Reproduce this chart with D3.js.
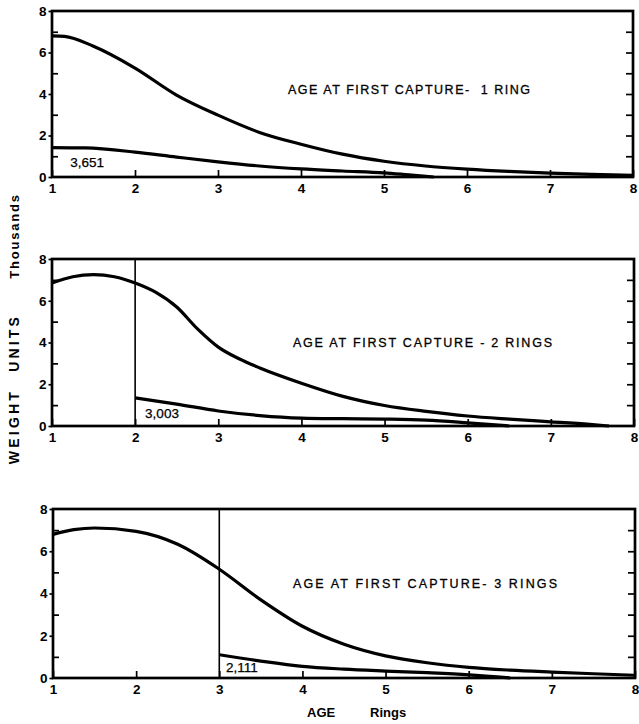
<!DOCTYPE html>
<html><head><meta charset="utf-8">
<script src="https://cdn.jsdelivr.net/npm/d3@7"></script>
<style>
html,body{margin:0;padding:0;background:#fff;}
svg{display:block;font-family:"Liberation Sans",Arial,sans-serif;}
</style></head>
<body>
<script>
// ---- data ----
const xTickLabels = [1,2,3,4,5,6,7,8];
const yTickLabels = [0,2,4,6,8];
const yMinorTicks = [1,3,5,7];
const rightTicks = [1,2,3,4,5,6,7];

const p1TotalX = [1,1.15,1.5,2,2.5,3,3.5,4,4.5,5,5.5,6,6.5,7,7.5,8];
const p1TotalY = [6.8,6.78,6.3,5.25,3.95,2.98,2.15,1.58,1.1,0.76,0.53,0.38,0.27,0.19,0.13,0.08];
const p1CatchX = [1,1.4,2,2.5,3,3.5,4,4.5,5,5.3,5.6];
const p1CatchY = [1.42,1.4,1.2,0.96,0.73,0.53,0.39,0.29,0.2,0.1,0];

const p2TotalX = [1,1.25,1.5,1.75,2,2.25,2.5,2.75,3,3.25,3.5,4,4.5,5,5.5,6,6.5,7,7.5,7.7];
const p2TotalY = [6.85,7.15,7.25,7.15,6.85,6.4,5.7,4.65,3.78,3.22,2.78,2.05,1.42,0.98,0.7,0.48,0.33,0.2,0.07,0];
const p2CatchX = [2,2.5,3,3.5,4,4.5,5,5.5,6,6.5];
const p2CatchY = [1.35,1.05,0.72,0.5,0.38,0.35,0.33,0.28,0.15,0];

const p3TotalX = [1,1.25,1.5,2,2.5,3,3.5,4,4.5,5,5.5,6,6.5,7,7.5,8];
const p3TotalY = [6.8,7.02,7.1,6.94,6.33,5.15,3.7,2.45,1.6,1.05,0.72,0.5,0.37,0.28,0.2,0.13];
const p3CatchX = [3,3.5,4,4.5,5,5.5,6,6.5];
const p3CatchY = [1.1,0.8,0.55,0.42,0.33,0.25,0.15,0];

const panelTitles = ["AGE AT FIRST CAPTURE-  1 RING","AGE AT FIRST CAPTURE - 2 RINGS","AGE AT FIRST CAPTURE- 3 RINGS"];
const catchLabels = ["3,651","3,003","2,111"];
const firstCaptureAge = [1,2,3];

// ---- layout ----
const W = 639, H = 724;
const svg = d3.select("body").append("svg").attr("width",W).attr("height",H);

const panels = [
  {top:11, bottom:177, left:52, right:633, total:[p1TotalX,p1TotalY], c:[p1CatchX,p1CatchY], titlePos:[288,94,242], labPos:[1.22,0.72]},
  {top:259, bottom:426, left:52, right:634, total:[p2TotalX,p2TotalY], c:[p2CatchX,p2CatchY], titlePos:[293,347,259], labPos:[2.12,0.6]},
  {top:509, bottom:678, left:53, right:635, total:[p3TotalX,p3TotalY], c:[p3CatchX,p3CatchY], titlePos:[293,588,264], labPos:[3.08,0.5]}
];

panels.forEach((p,i)=>{
  const w = p.right-p.left, h = p.bottom-p.top;
  const x = d3.scaleLinear().domain([1,8]).range([0,w]);
  const y = d3.scaleLinear().domain([0,8]).range([h,0]);
  const g = svg.append("g").attr("transform",`translate(${p.left},${p.top})`);

  const bx = g.append("g").attr("transform",`translate(0,${h})`)
    .call(d3.axisBottom(x).tickValues(xTickLabels).tickFormat(d3.format("d")).tickSizeInner(-7).tickSizeOuter(0).tickPadding(6.5));
  const ly = g.append("g")
    .call(d3.axisLeft(y).tickValues(yTickLabels).tickFormat(d3.format("d")).tickSizeInner(3.5).tickSizeOuter(0).tickPadding(2));
  const lm = g.append("g")
    .call(d3.axisLeft(y).tickValues(yMinorTicks).tickFormat("").tickSizeInner(-6).tickSizeOuter(0));
  const ra = g.append("g").attr("transform",`translate(${w},0)`)
    .call(d3.axisRight(y).tickValues(rightTicks).tickFormat("").tickSizeInner(-7).tickSizeOuter(0));

  [bx,ly,lm,ra].forEach(a=>{
    a.select(".domain").remove();
    a.selectAll(".tick line").attr("stroke","#000").attr("stroke-width",1.7);
    a.selectAll(".tick text").attr("fill","#000").attr("font-size",13.5).attr("font-weight","bold")
      .attr("font-family","'Liberation Sans',Arial,sans-serif");
  });

  g.append("rect").attr("x",0).attr("y",0).attr("width",w).attr("height",h)
    .attr("fill","none").attr("stroke","#000").attr("stroke-width",2.7);

  if (firstCaptureAge[i] > 1) {
    g.append("line").attr("x1",x(firstCaptureAge[i])).attr("x2",x(firstCaptureAge[i]))
      .attr("y1",0).attr("y2",h).attr("stroke","#000").attr("stroke-width",1.6);
  }

  const line = d3.line().x(d=>x(d[0])).y(d=>y(d[1])).curve(d3.curveMonotoneX);
  const tot = p.total[0].map((v,k)=>[v,p.total[1][k]]);
  const cat = p.c[0].map((v,k)=>[v,p.c[1][k]]);
  g.append("path").attr("d",line(tot)).attr("fill","none").attr("stroke","#000").attr("stroke-width",3.2);
  g.append("path").attr("d",line(cat)).attr("fill","none").attr("stroke","#000").attr("stroke-width",3.2);

  svg.append("text").attr("x",p.titlePos[0]).attr("y",p.titlePos[1])
    .attr("textLength",p.titlePos[2]).attr("lengthAdjust","spacing")
    .attr("font-size",12.5).attr("fill","#000").attr("stroke","#000").attr("stroke-width",0.3)
    .style("white-space","pre")
    .text(panelTitles[i]);

  g.append("text").attr("x",x(p.labPos[0])).attr("y",y(p.labPos[1])+4.5)
    .attr("font-size",13.5).attr("fill","#000").attr("stroke","#000").attr("stroke-width",0.25)
    .text(catchLabels[i]);
});

svg.append("text").attr("transform","translate(19,236) rotate(-90)")
  .attr("text-anchor","middle").attr("font-size",13).attr("font-weight","bold")
  .attr("letter-spacing",1.8).text("Thousands");
svg.append("text").attr("transform","translate(19,389) rotate(-90)")
  .attr("text-anchor","middle").attr("font-size",14).attr("font-weight","bold")
  .attr("letter-spacing",3.2).attr("word-spacing",10).style("white-space","pre")
  .text("WEIGHT UNITS");

svg.append("text").attr("x",307).attr("y",717).attr("font-size",13).attr("font-weight","bold").text("AGE");
svg.append("text").attr("x",370).attr("y",717).attr("font-size",13).attr("font-weight","bold").text("Rings");
</script>
</body></html>
